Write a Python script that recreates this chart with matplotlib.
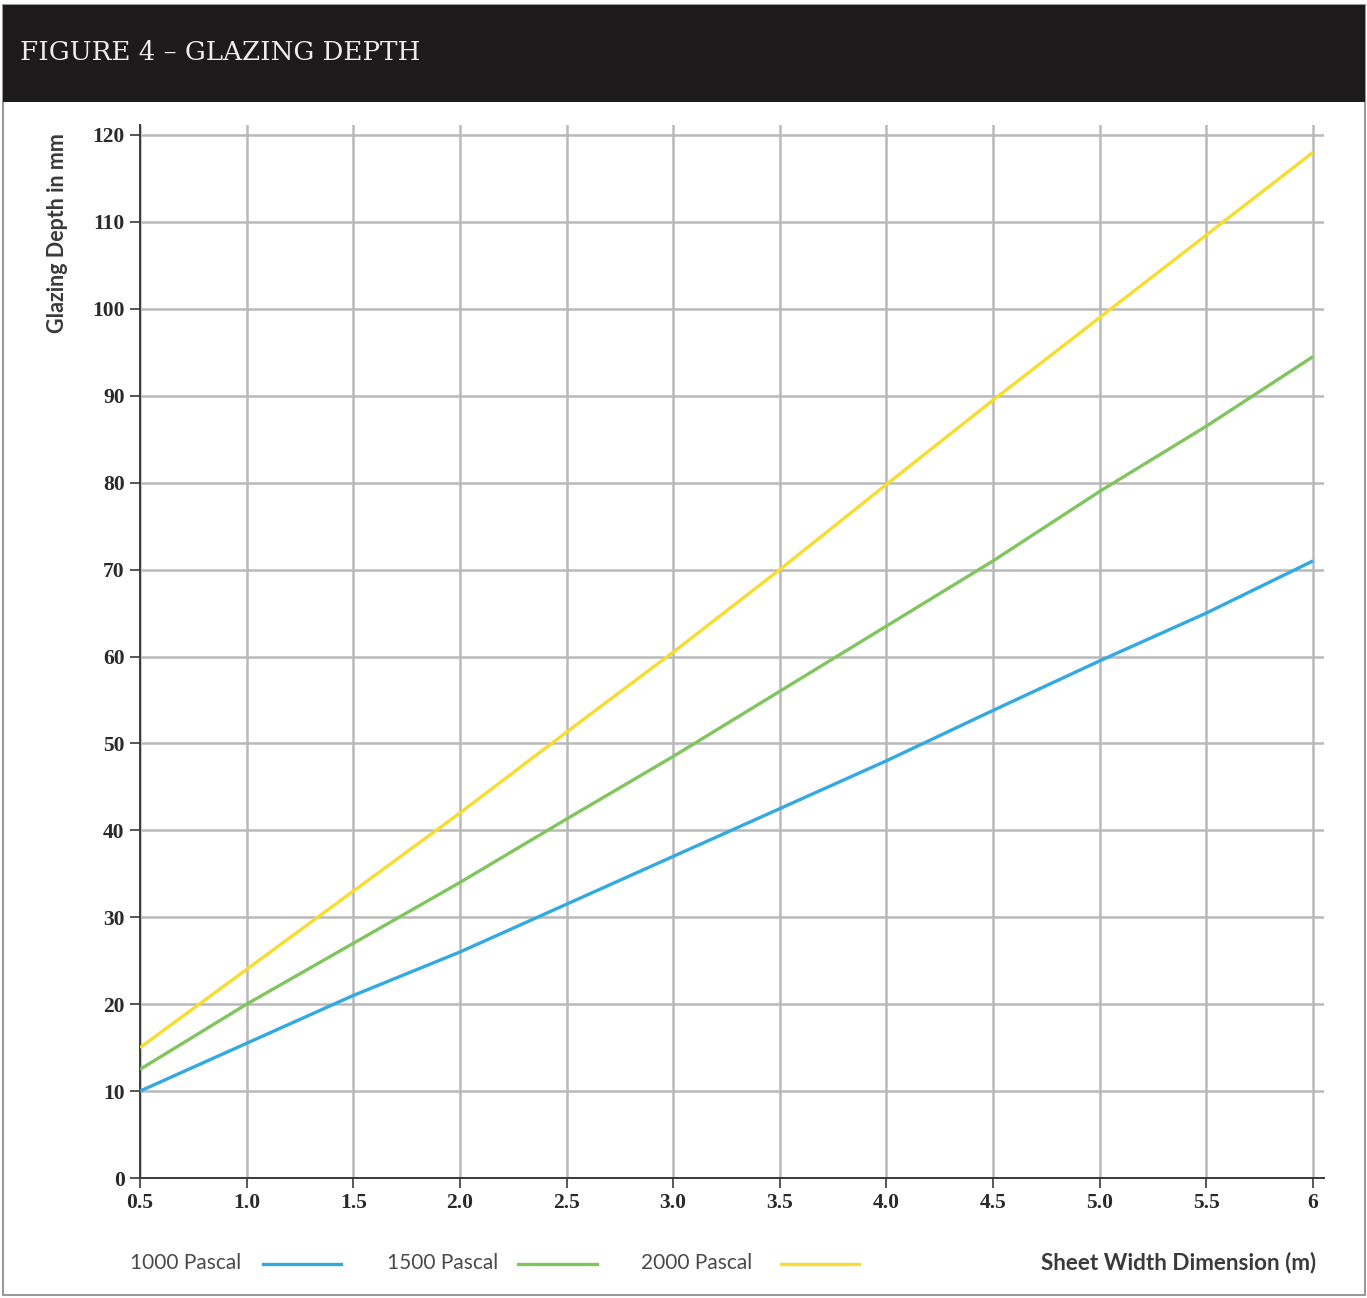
import matplotlib
matplotlib.use("Agg")
import matplotlib.pyplot as plt
from matplotlib.patches import Rectangle
from matplotlib.lines import Line2D

# ---- data ----
width_m = [0.5, 1.0, 1.5, 2.0, 2.5, 3.0, 3.5, 4.0, 4.5, 5.0, 5.5, 6.0]
pa1000 = [10.0, 15.5, 21.0, 26.0, 31.5, 37.0, 42.5, 48.0, 53.8, 59.5, 65.0, 71.0]
pa1500 = [12.5, 20.0, 27.0, 34.0, 41.3, 48.5, 56.0, 63.5, 71.0, 79.0, 86.5, 94.5]
pa2000 = [15.0, 24.0, 33.0, 42.0, 51.3, 60.5, 70.0, 79.8, 89.5, 99.0, 108.5, 118.0]
series_labels = ["1000 Pascal", "1500 Pascal", "2000 Pascal"]
series_colors = ["#33a9e1", "#80c55e", "#f8dc2f"]
xtick_vals = [0.5, 1.0, 1.5, 2.0, 2.5, 3.0, 3.5, 4.0, 4.5, 5.0, 5.5, 6.0]
xtick_labels = ["0.5", "1.0", "1.5", "2.0", "2.5", "3.0", "3.5", "4.0", "4.5", "5.0", "5.5", "6"]
ytick_vals = [0, 10, 20, 30, 40, 50, 60, 70, 80, 90, 100, 110, 120]
title = "FIGURE 4 – GLAZING DEPTH"
ylabel = "Glazing Depth in mm"
xlabel = "Sheet Width Dimension (m)"

W, H = 1367, 1298
fig = plt.figure(figsize=(W / 100, H / 100), dpi=100)
fig.patch.set_facecolor("white")

def fx(px):
    return px / W

def fy(py):
    return 1 - py / H

# outer frame and title bar
fig.add_artist(Rectangle((fx(3), fy(1295)), fx(1362), 1295 / H - 5 / H,
                         transform=fig.transFigure, facecolor="white",
                         edgecolor="#9a9a9a", linewidth=1.5, zorder=0))
fig.add_artist(Rectangle((fx(3), fy(102)), fx(1362), 97 / H,
                         transform=fig.transFigure, facecolor="#1c1a1a",
                         edgecolor="none", zorder=1))
fig.text(fx(20), fy(53), title, color="#ececec", fontsize=18.8,
         family="DejaVu Serif", va="center", ha="left", zorder=2)

# axes
x0, x1 = 0.5, 6.05
y0, y1 = 0, 121.2
left_px, right_px = 140, 140 + (x1 - 0.5) * (1313 - 140) / 5.5
bot_px = 1178
top_px = 1178 - y1 * (1178 - 135) / 120
ax = fig.add_axes([fx(left_px), fy(bot_px), fx(right_px - left_px), (bot_px - top_px) / H])
ax.set_xlim(x0, x1)
ax.set_ylim(y0, y1)

for vals, lab, col in zip([pa1000, pa1500, pa2000], series_labels, series_colors):
    ax.plot(width_m, vals, color=col, linewidth=2.4, label=lab, zorder=3, solid_capstyle="butt")

ax.set_xticks(xtick_vals)
ax.set_xticklabels(xtick_labels)
ax.set_yticks(ytick_vals)
ax.grid(True, color="#b9b9b9", linewidth=1.8, zorder=1)
ax.set_axisbelow(True)
for s in ["top", "right"]:
    ax.spines[s].set_visible(False)
for s in ["left", "bottom"]:
    ax.spines[s].set_color("#3a3a3a")
    ax.spines[s].set_linewidth(1.4)
ax.tick_params(axis="both", direction="out", length=7, width=1.2, color="#3a3a3a",
               labelcolor="#2a2a2a", pad=4)
for t in ax.get_xticklabels() + ax.get_yticklabels():
    t.set_family("Liberation Serif")
    t.set_fontweight("bold")
    t.set_fontsize(15.5)

fig.text(fx(58), fy(233), ylabel, rotation=90, ha="center", va="center",
         fontsize=15.5, fontweight="bold", family="Lato", color="#3a3a3a")

# legend (label then line sample)
leg_items = [(130, 263, 341), (387, 518, 597), (641, 781, 859)]
for (tx, lx0, lx1), lab, col in zip(leg_items, series_labels, series_colors):
    fig.text(fx(tx), fy(1263), lab, ha="left", va="center", fontsize=15,
             family="Lato", color="#4a4a4a")
    fig.add_artist(Line2D([fx(lx0), fx(lx1)], [fy(1264), fy(1264)],
                          transform=fig.transFigure, color=col, linewidth=2.4))
fig.text(fx(1316), fy(1263), xlabel, ha="right", va="center", fontsize=16.2,
         fontweight="bold", family="Lato", color="#3a3a3a")

fig.savefig("out.png", dpi=100)
